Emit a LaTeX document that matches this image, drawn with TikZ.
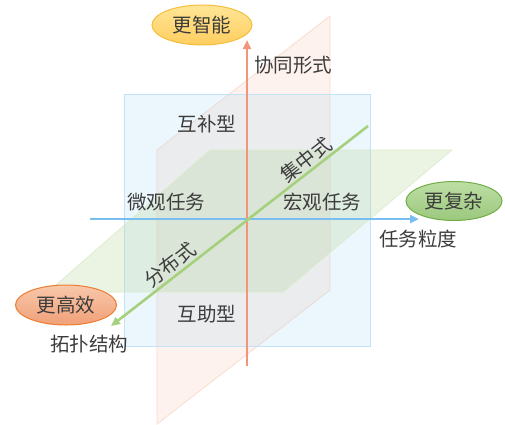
\documentclass[tikz,border=0pt]{standalone}
\usepackage{fontspec}
\setmainfont{Noto Sans CJK SC}
\usetikzlibrary{shapes.geometric,arrows.meta}
\definecolor{planeB}{RGB}{160,215,245}
\definecolor{planeBline}{RGB}{196,226,246}
\definecolor{planeO}{RGB}{245,190,165}
\definecolor{planeOline}{RGB}{250,220,205}
\definecolor{planeG}{RGB}{175,210,145}
\definecolor{planeGline}{RGB}{216,234,202}
\definecolor{axR}{RGB}{241,150,125}
\definecolor{axB}{RGB}{120,190,240}
\definecolor{axG}{RGB}{165,208,125}
\definecolor{txt}{RGB}{60,60,60}
\tikzset{
  lbl/.style={text=txt,font=\fontsize{19.5}{19.5}\selectfont,inner sep=0pt},
  bubble/.style={ellipse,minimum width=100pt,minimum height=40pt,inner sep=0pt,line width=1pt,font=\fontsize{19.5}{19.5}\selectfont,text=txt},
  axis/.style={line width=2.6pt,-{Triangle[length=9pt,width=8pt]}},
}
\begin{document}
\begin{tikzpicture}[x=1pt,y=-1pt]
\path[use as bounding box] (0,0) rectangle (505,424);
% orange vertical slanted plane
\fill[planeO,fill opacity=0.2] (157,150) -- (330,16) -- (330,290) -- (157,424) -- cycle;
\draw[planeOline,line width=0.8pt] (157,150) -- (330,16) -- (330,290) -- (157,424) -- cycle;
% blue front plane
\fill[planeB,fill opacity=0.2] (124,94) rectangle (370,346);
\draw[planeBline,line width=0.8pt] (124,94) rectangle (370,346);
% green horizontal plane
\fill[planeG,fill opacity=0.25] (210,150) -- (452,150) -- (283,292) -- (48,292) -- cycle;
\draw[planeGline,line width=0.6pt] (210,150) -- (452,150) -- (283,292) -- (48,292) -- cycle;
% axes
\coordinate (xL) at (90,219);
\coordinate (xR) at (419,219);
\coordinate (zB) at (247,366);
\coordinate (zT) at (247,40);
\coordinate (yB) at (368,126);
\coordinate (yF) at (111,326);
\draw[axis,axB] (xL) -- (xR);
\draw[axis,axR] (zB) -- (zT);
\draw[axis,axG] (yB) -- (yF);
% bubbles
\node[bubble,draw={rgb,255:red,245;green,190;blue,60},top color={rgb,255:red,255;green,230;blue,150},bottom color={rgb,255:red,255;green,205;blue,95}] (smart) at (202,25) {更智能};
\node[bubble,minimum width=96pt,minimum height=39pt,draw={rgb,255:red,112;green,173;blue,71},top color={rgb,255:red,190;green,222;blue,165},bottom color={rgb,255:red,155;green,200;blue,125}] (complex) at (454,201) {更复杂};
\node[bubble,minimum width=101pt,draw={rgb,255:red,237;green,125;blue,49},top color={rgb,255:red,248;green,200;blue,170},bottom color={rgb,255:red,240;green,160;blue,120}] (eff) at (66,305) {更高效};
% labels
\node[lbl] (xt) at (293,65) {协同形式};
\node[lbl] (hb) at (207,124) {互补型};
\node[lbl] (hz) at (207,314) {互助型};
\node[lbl] (wg) at (166,202) {微观任务};
\node[lbl] (hg) at (322,202) {宏观任务};
\node[lbl] (rw) at (418,239) {任务粒度};
\node[lbl] (tp) at (89,344) {拓扑结构};
\node[lbl,rotate=38] (jz) at (306,160) {集中式};
\node[lbl,rotate=38] (fb) at (170,265) {分布式};
\end{tikzpicture}
\end{document}
